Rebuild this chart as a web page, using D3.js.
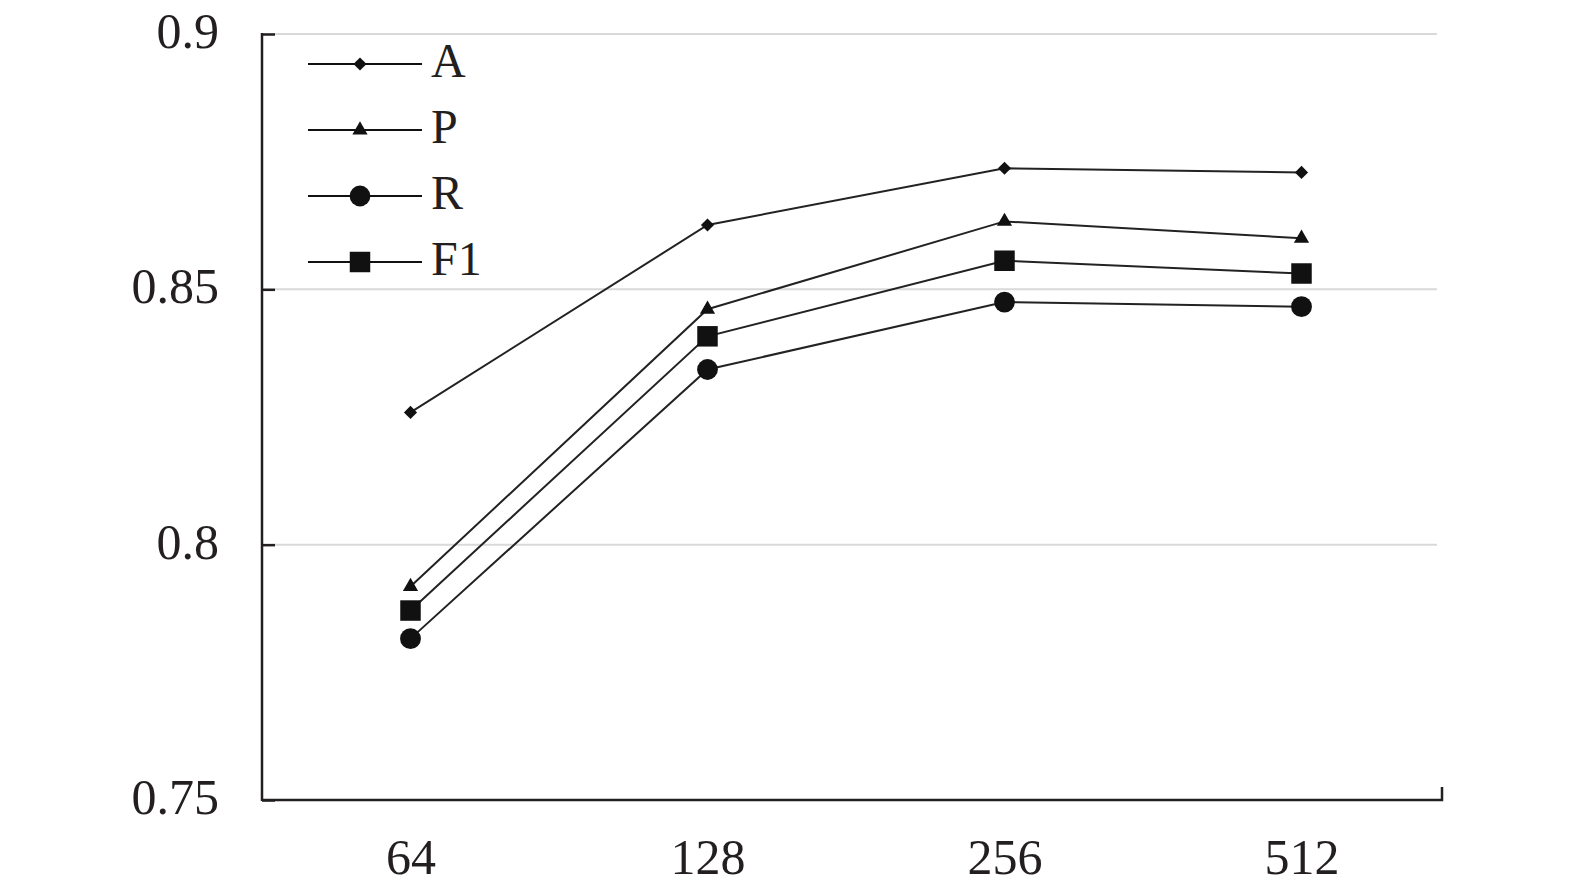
<!DOCTYPE html>
<html lang="en">
<script src="https://d3js.org/d3.v7.min.js"></script>
<head>
    <meta charset="UTF-8"><title>A P R F1 chart</title>
    <style>
      body { margin:0; background:#fff; }
      text { font-family: "Liberation Serif", "Times New Roman", serif; fill:#231f20; }
    </style>
</head>
<body>
   <svg width="1575" height="896"></svg>
</body>
<script>
const categories = ["64", "128", "256", "512"];
const seriesNames = ["A", "P", "R", "F1"];
const valuesA  = [0.8259, 0.8626, 0.8737, 0.8729];
const valuesP  = [0.7918, 0.8461, 0.8633, 0.8600];
const valuesR  = [0.7816, 0.8343, 0.8475, 0.8466];
const valuesF1 = [0.7871, 0.8408, 0.8556, 0.8531];
const yTicks = [0.75, 0.8, 0.85, 0.9];
const yTickLabels = ["0.75", "0.8", "0.85", "0.9"];

const series = [
  { name: seriesNames[0], values: valuesA,  symbol: d3.symbolDiamond2, size: 110 },
  { name: seriesNames[1], values: valuesP,  symbol: d3.symbolTriangle, size: 100 },
  { name: seriesNames[2], values: valuesR,  symbol: d3.symbolCircle,   size: 340 },
  { name: seriesNames[3], values: valuesF1, symbol: d3.symbolSquare,   size: 420 }
];

const svg = d3.select("svg");
const plotLeft = 262, plotRight = 1442, plotTop = 34, plotBottom = 800;

const xScale = d3.scalePoint()
                .domain(categories)
                .range([plotLeft, 1450])
                .padding(0.5);
const yScale = d3.scaleLinear()
                .domain([0.75, 0.9])
                .range([plotBottom, plotTop]);

// grid lines
svg.append("g").selectAll("line")
    .data(yTicks.filter(d => d > 0.75))
    .enter()
    .append("line")
    .attr("x1", plotLeft).attr("x2", 1437)
    .attr("y1", d => yScale(d)).attr("y2", d => yScale(d))
    .attr("stroke", "#d9d9d9")
    .attr("stroke-width", 2);

// y axis with inward ticks
const yAxis = d3.axisRight(yScale).tickValues(yTicks).tickSize(13).tickFormat("");
const yAxisSvg = svg.append("g").attr("transform", "translate(" + plotLeft + ",0)");
yAxis(yAxisSvg);
yAxisSvg.select(".domain").remove();
yAxisSvg.selectAll("line").attr("stroke", "#231f20").attr("stroke-width", 2.5);
yAxisSvg.append("line")
    .attr("x1", 0).attr("x2", 0).attr("y1", plotTop - 1).attr("y2", plotBottom + 1)
    .attr("stroke", "#231f20").attr("stroke-width", 2.5);

svg.append("g").selectAll("text")
    .data(yTicks)
    .enter()
    .append("text")
    .attr("x", 219)
    .attr("y", d => yScale(d) + 14)
    .attr("text-anchor", "end")
    .style("font-size", "50px")
    .text((d, i) => yTickLabels[i]);

// x axis
const xAxisSvg = svg.append("g").attr("transform", "translate(0," + plotBottom + ")");
const xAxis = d3.axisBottom(xScale).tickSize(0).tickPadding(0);
xAxis(xAxisSvg);
xAxisSvg.select(".domain").remove();
xAxisSvg.selectAll("text")
    .attr("dy", null)
    .attr("y", 74)
    .style("font-size", "50px")
    .style("font-family", "Liberation Serif, Times New Roman, serif")
    .attr("fill", "#231f20");
svg.append("path")
    .attr("d", "M" + plotLeft + "," + plotBottom + "H" + plotRight + "V" + (plotBottom - 13))
    .attr("fill", "none")
    .attr("stroke", "#231f20")
    .attr("stroke-width", 2.5);

// lines and markers
const line = d3.line()
            .x((d, i) => xScale(categories[i]))
            .y(d => yScale(d));

series.forEach(s => {
  svg.append("path")
    .attr("d", line(s.values))
    .attr("fill", "none")
    .attr("stroke", "#222")
    .attr("stroke-width", 2);
  svg.append("g").selectAll("path")
    .data(s.values)
    .enter()
    .append("path")
    .attr("d", d3.symbol().type(s.symbol).size(s.size))
    .attr("transform", (d, i) => "translate(" + xScale(categories[i]) + "," + yScale(d) + ")")
    .attr("fill", "#111");
});

// legend
const legend = svg.append("g").selectAll("g")
    .data(series)
    .enter()
    .append("g")
    .attr("transform", (d, i) => "translate(0," + (64 + i * 66) + ")");
legend.append("line")
    .attr("x1", 308).attr("x2", 422)
    .attr("stroke", "#111").attr("stroke-width", 2);
legend.append("path")
    .attr("d", d => d3.symbol().type(d.symbol).size(d.size)())
    .attr("transform", "translate(360,0)")
    .attr("fill", "#111");
legend.append("text")
    .attr("x", 431)
    .attr("y", 13)
    .style("font-size", "48px")
    .text(d => d.name);
</script>
</html>
